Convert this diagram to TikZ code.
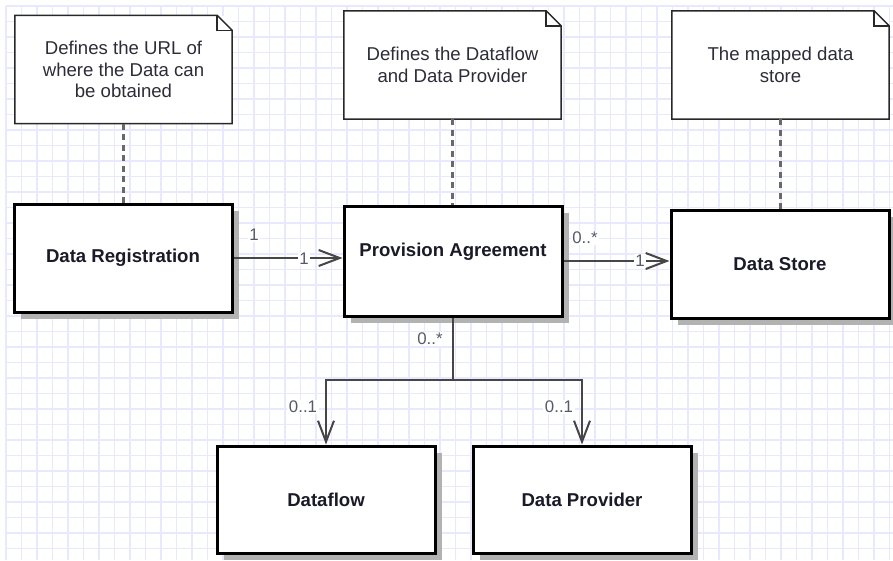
\documentclass[tikz,border=0pt]{standalone}
\usepackage{fontspec}
\setmainfont{Liberation Sans}
\usetikzlibrary{arrows.meta,shadows}
\definecolor{gridc}{RGB}{232,232,255}
\definecolor{txt}{RGB}{26,26,40}
\definecolor{notetxt}{RGB}{45,45,58}
\definecolor{lblc}{RGB}{85,90,105}
\definecolor{conn}{RGB}{70,70,70}
\definecolor{dashc}{RGB}{105,105,105}
\definecolor{shadowc}{RGB}{178,178,178}
\definecolor{notec}{RGB}{40,40,40}
\newcommand\noteoutline[1]{%
  \draw[noteline] (#1.north west) -- ([xshift=-15pt]#1.north east) -- ([yshift=-15pt]#1.north east) -- (#1.south east) -- (#1.south west) -- cycle;
  \draw[noteline] ([xshift=-15pt]#1.north east) |- ([yshift=-15pt]#1.north east);}
\begin{document}
\begin{tikzpicture}[x=1pt,y=-1pt,
  classbox/.style={draw=black, line width=3pt, fill=white, minimum width=218pt, minimum height=108pt,
    font=\fontsize{18.6}{22}\selectfont\bfseries, text=txt,
    drop shadow={shadow xshift=7pt, shadow yshift=-7pt, fill=shadowc, opacity=1}},
  notebox/.style={fill=white, minimum width=217pt, minimum height=108pt, align=center,
    font=\fontsize{18.6}{21.5}\selectfont, text=notetxt},
  noteline/.style={draw=notec, line width=1.5pt, line join=miter},
  assoc/.style={draw=conn, line width=2.3pt, -{Straight Barb[length=21pt,width=16pt,line width=2pt]}},
  plainconn/.style={draw=conn, line width=2.3pt},
  dashconn/.style={draw=dashc, line width=2.8pt, dash pattern=on 6pt off 4.5pt},
  lbl/.style={fill=white, inner sep=1.5pt, font=\fontsize{16.8}{18}\selectfont, text=lblc},
  gridline/.style={draw=gridc, line width=1.4pt}]
\useasboundingbox (0,0) rectangle (893,560);
\fill[white] (0,0) rectangle (893,560);
% grid
\foreach \i in {0,...,57} \draw[gridline] ({6+15.5*\i},6) -- ({6+15.5*\i},560);
\foreach \j in {0,...,35} \draw[gridline] (6,{6+15.5*\j}) -- (893,{6+15.5*\j});
% notes
\node[notebox] (n1) at (123.5,69.5) {Defines the URL of\\where the Data can\\be obtained};
\node[notebox] (n2) at (452.5,65) {Defines the Dataflow\\and Data Provider};
\node[notebox] (n3) at (780.5,65) {The mapped data\\store};
\noteoutline{n1}
\noteoutline{n2}
\noteoutline{n3}
% classes
\node[classbox] (dr) at (123,258) {Data Registration};
\node[classbox, minimum height=110pt, text height=13.5pt, text depth=22pt] (pa) at (453,261) {Provision Agreement};
\node[classbox] (ds) at (780,264) {Data Store};
\node[classbox, minimum height=107pt] (df) at (326,499.5) {Dataflow};
\node[classbox, minimum height=107pt] (dp) at (582,499.5) {Data Provider};
% note anchors
\draw[dashconn] (n1.south) -- (n1.south |- dr.north);
\draw[dashconn] (n2.south) -- (n2.south |- pa.north);
\draw[dashconn] (n3.south) -- (n3.south |- ds.north);
% associations
\draw[assoc] (dr.east) -- (dr.east -| pa.west);
\draw[assoc] (pa.east) -- (pa.east -| ds.west);
\coordinate (j) at (453,380);
\draw[plainconn] (pa.south) -- (j);
\draw[assoc] (j) -| (df.north);
\draw[assoc] (j) -| (dp.north);
% multiplicities
\node[lbl] (m1) at (254,235) {1};
\node[lbl] (m2) at (304,259) {1};
\node[lbl] (m3) at (585,238) {0..*};
\node[lbl] (m4) at (640,261) {1};
\node[lbl] (m5) at (430,339) {0..*};
\node[lbl] (m6) at (303,407) {0..1};
\node[lbl] (m7) at (559,407) {0..1};
\end{tikzpicture}
\end{document}
